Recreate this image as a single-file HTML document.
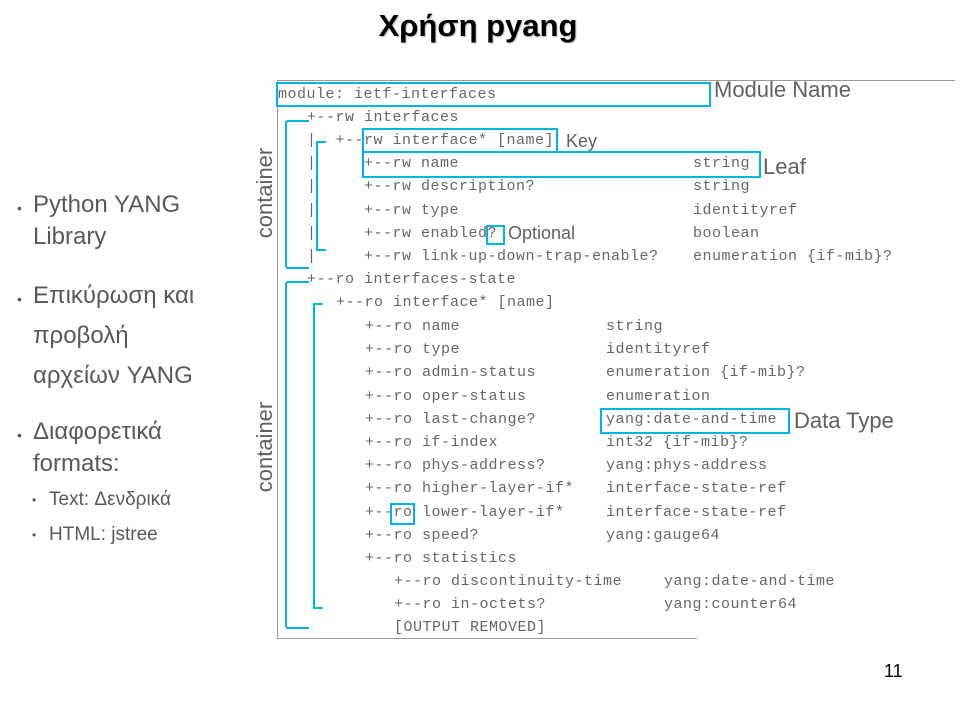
<!DOCTYPE html>
<html><head><meta charset="utf-8"><style>
body{margin:0;width:960px;height:720px;background:#fff;position:relative;overflow:hidden;font-family:"Liberation Sans",sans-serif}
.m{position:absolute;font-family:"Liberation Mono",monospace;font-size:15px;letter-spacing:0.5px;color:#666;line-height:23.2px;margin-top:-2px;white-space:pre}
.b{position:absolute;border:2.5px solid #00b4e6;box-sizing:border-box}
.l{position:absolute;color:#606060;white-space:nowrap;line-height:1}
.t{position:absolute;color:#595959;font-size:24px;white-space:nowrap;line-height:1}
.d{position:absolute;color:#595959;font-size:14px;line-height:1}
</style></head><body>
<div class="l" style="left:0;width:956px;text-align:center;top:10px;font-size:31px;font-weight:bold;color:#000;text-shadow:1px 1px 1px #bbb">Χρήση pyang</div>

<div class="d" style="left:17px;top:201px">•</div>
<div class="t" style="left:33px;top:193px">Python YANG</div>
<div class="t" style="left:33px;top:225px">Library</div>
<div class="d" style="left:17px;top:292px">•</div>
<div class="t" style="left:33px;top:284px">Επικύρωση και</div>
<div class="t" style="left:33px;top:324px">προβολή</div>
<div class="t" style="left:33px;top:364px">αρχείων YANG</div>
<div class="d" style="left:17px;top:428px">•</div>
<div class="t" style="left:33px;top:420px">Διαφορετικά</div>
<div class="t" style="left:33px;top:452px">formats:</div>
<div class="d" style="left:32px;top:494px;font-size:12px">•</div>
<div class="t" style="left:49px;top:490px;font-size:19px">Text: Δενδρικά</div>
<div class="d" style="left:32px;top:529px;font-size:12px">•</div>
<div class="t" style="left:49px;top:525px;font-size:19px">HTML: jstree</div>

<div class="l" style="left:265px;top:193px;font-size:22px;transform:translate(-50%,-50%) rotate(-90deg)">container</div>
<div class="l" style="left:265px;top:447px;font-size:22px;transform:translate(-50%,-50%) rotate(-90deg)">container</div>

<div style="position:absolute;left:277px;top:80px;width:678px;height:1px;background:#999"></div>
<div style="position:absolute;left:277px;top:80px;width:1px;height:559px;background:#999"></div>
<div style="position:absolute;left:277px;top:638px;width:420px;height:1px;background:#999"></div>

<div class="m" style="left:278px;top:85px">module: ietf-interfaces</div>
<div class="m" style="left:307px;top:108px">+--rw interfaces</div>
<div class="m" style="left:307px;top:131px">|  +--rw interface* [name]</div>
<div class="m" style="left:307px;top:154px">|     +--rw name</div>
<div class="m" style="left:307px;top:177px">|     +--rw description?</div>
<div class="m" style="left:307px;top:201px">|     +--rw type</div>
<div class="m" style="left:307px;top:224px">|     +--rw enabled?</div>
<div class="m" style="left:307px;top:247px">|     +--rw link-up-down-trap-enable?</div>
<div class="m" style="left:693px;top:154px">string</div>
<div class="m" style="left:693px;top:177px">string</div>
<div class="m" style="left:693px;top:201px">identityref</div>
<div class="m" style="left:693px;top:224px">boolean</div>
<div class="m" style="left:693px;top:247px">enumeration {if-mib}?</div>
<div class="m" style="left:307px;top:270px">+--ro interfaces-state</div>
<div class="m" style="left:336px;top:293px">+--ro interface* [name]</div>
<div class="m" style="left:365px;top:317px">+--ro name
+--ro type
+--ro admin-status
+--ro oper-status
+--ro last-change?
+--ro if-index
+--ro phys-address?
+--ro higher-layer-if*
+--ro lower-layer-if*
+--ro speed?
+--ro statistics</div>
<div class="m" style="left:606px;top:317px">string
identityref
enumeration {if-mib}?
enumeration
yang:date-and-time
int32 {if-mib}?
yang:phys-address
interface-state-ref
interface-state-ref
yang:gauge64</div>
<div class="m" style="left:394px;top:572px">+--ro discontinuity-time
+--ro in-octets?
[OUTPUT REMOVED]</div>
<div class="m" style="left:664px;top:572px">yang:date-and-time
yang:counter64</div>

<div class="b" style="left:276px;top:82px;width:435px;height:25px"></div>
<div class="b" style="left:362px;top:128px;width:196px;height:25px"></div>
<div class="b" style="left:362px;top:151px;width:399px;height:27px"></div>
<div class="b" style="left:486px;top:225px;width:19px;height:20px"></div>
<div class="b" style="left:600px;top:408px;width:190px;height:26px"></div>
<div class="b" style="left:390px;top:503px;width:25px;height:22px"></div>

<div class="b" style="left:285px;top:120px;width:24px;height:149px;border-right:none;border-radius:3px 0 0 3px"></div>
<div class="b" style="left:316px;top:141px;width:10px;height:110px;border-right:none"></div>
<div class="b" style="left:285px;top:281px;width:24px;height:348px;border-right:none;border-radius:3px 0 0 3px"></div>
<div class="b" style="left:313px;top:303px;width:10px;height:306px;border-right:none"></div>

<div class="l" style="left:714px;top:79px;font-size:22px">Module Name</div>
<div class="l" style="left:566px;top:132px;font-size:18px">Key</div>
<div class="l" style="left:763px;top:156px;font-size:22px">Leaf</div>
<div class="l" style="left:508px;top:224px;font-size:18px">Optional</div>
<div class="l" style="left:794px;top:410px;font-size:22px">Data Type</div>
<div class="l" style="left:884px;top:662px;font-size:18px;color:#000">11</div>
</body></html>
